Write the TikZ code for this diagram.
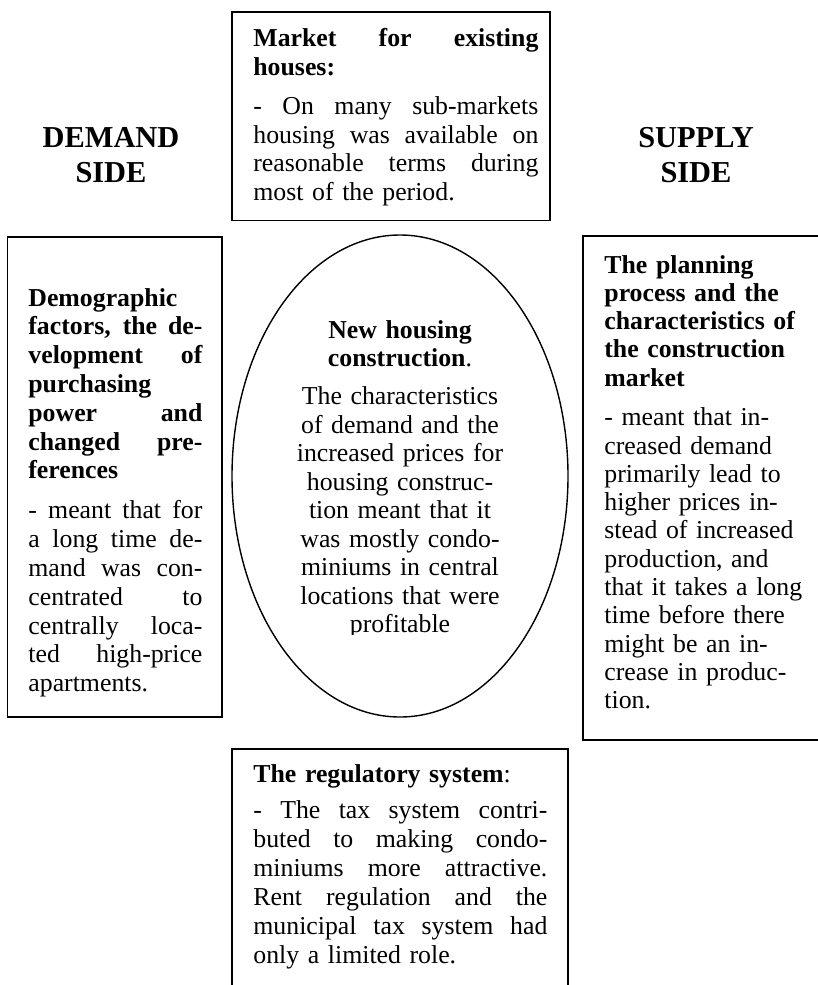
\documentclass[tikz,border=0pt]{standalone}
\usepackage{fontspec}
\setmainfont{Liberation Serif}
\usetikzlibrary{shapes.geometric}

% one fully justified line of a paragraph (font spacing restored so the
% word gaps can stretch inside ragged node text)
\newcommand\jline[1]{{\spaceskip=0pt\xspaceskip=0pt\makebox[\linewidth][s]{#1}}}

\tikzset{
  panel/.style={draw, line width=0.9pt, rectangle, inner sep=0pt, outer sep=0pt},
  oval/.style={draw, line width=0.7pt, ellipse, inner sep=0pt, outer sep=0pt},
  bodytext/.style={inner sep=0pt, anchor=base west, align=left,
    font=\fontsize{12.9}{14.25}\selectfont},
  ovaltext/.style={inner sep=0pt, anchor=base, align=center, text width=130pt,
    font=\fontsize{12.9}{14.25}\selectfont},
  sidehead/.style={inner sep=0pt, anchor=base, align=center, text width=100pt,
    font=\fontsize{15.2}{17.5}\selectfont\bfseries},
}

\begin{document}
\begin{tikzpicture}[x=0.5pt, y=-0.5pt]
\useasboundingbox (0,0) rectangle (818,985);

% frames
\node[panel, minimum width=159pt,   minimum height=104.25pt] (market)  at (391,116.25) {};
\node[panel, minimum width=107.25pt, minimum height=240pt]   (demand)  at (114.75,477) {};
\node[panel, minimum width=119.5pt, minimum height=252pt]    (supply)  at (702.5,488) {};
\node[panel, minimum width=168pt,   minimum height=123pt]    (regul)   at (400,872) {};
\node[oval,  minimum width=168pt,   minimum height=241pt]    (newhouse) at (400,476) {};

% side headings
\node[sidehead] (demandHead) at (111,147) {DEMAND\\SIDE};
\node[sidehead] (supplyHead) at (696,147) {SUPPLY\\SIDE};

% market for existing houses
\node[bodytext, text width=142.5pt] (marketText) at (253,46.7) {%
\textbf{\jline{Market for existing}}\\
\textbf{houses:}\\[5.6pt]
\jline{- On many sub-markets}\\
\jline{housing was available on}\\
\jline{reasonable terms during}\\
most of the period.};

% demand side factors
\node[bodytext, text width=87pt, font=\fontsize{12.9}{14.4}\selectfont] (demandText) at (28,306) {%
\textbf{Demographic}\\
\textbf{\jline{factors, the de-}}\\
\textbf{\jline{velopment of}}\\
\textbf{purchasing}\\
\textbf{\jline{power and}}\\
\textbf{\jline{changed pre-}}\\
\textbf{ferences}\\[5.6pt]
\jline{- meant that for}\\
\jline{a long time de-}\\
\jline{mand was con-}\\
\jline{centrated to}\\
\jline{centrally loca-}\\
\jline{ted high-price}\\
apartments.};

% supply side factors
\node[bodytext, text width=105pt, font=\fontsize{12.9}{14.15}\selectfont] (supplyText) at (604,273) {%
\textbf{The planning}\\
\textbf{process and the}\\
\textbf{characteristics of}\\
\textbf{the construction}\\
\textbf{market}\\[5.6pt]
- meant that in-\\
creased demand\\
primarily lead to\\
higher prices in-\\
stead of increased\\
production, and\\
that it takes a long\\
time before there\\
might be an in-\\
crease in produc-\\
tion.};

% new housing construction (text cut off at the foot of its frame)
\begin{scope}
\clip (220,290) rectangle (580,634);
\node[ovaltext] (newhouseText) at (400,338) {%
\textbf{New housing}\\
\textbf{construction}.\\[4.75pt]
The characteristics\\
of demand and the\\
increased prices for\\
housing construc-\\
tion meant that it\\
was mostly condo-\\
miniums in central\\
locations that were\\
profitable};
\end{scope}

% regulatory system
\node[bodytext, text width=147pt, font=\fontsize{12.9}{14.5}\selectfont] (regulText) at (253,782) {%
\textbf{The regulatory system}:\\[3.75pt]
\jline{- The tax system contri-}\\
\jline{buted to making condo-}\\
\jline{miniums more attractive.}\\
\jline{Rent regulation and the}\\
\jline{municipal tax system had}\\
only a limited role.};

\end{tikzpicture}
\end{document}
